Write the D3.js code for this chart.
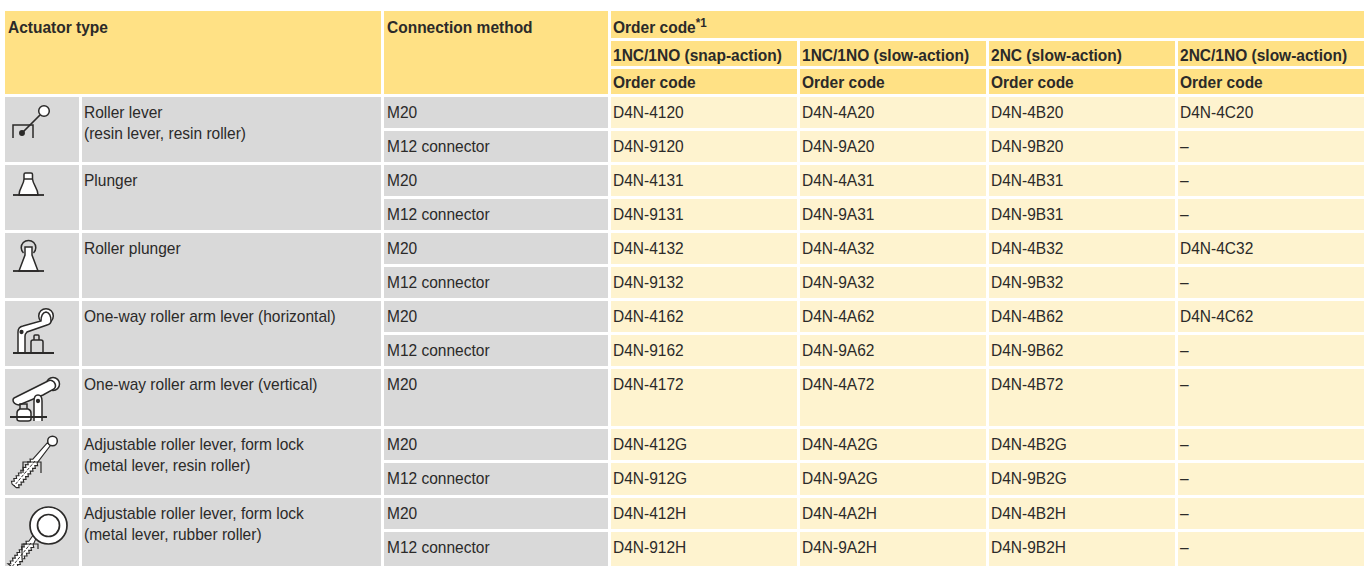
<!DOCTYPE html>
<html>
<head>
<meta charset="utf-8">
<script src="https://cdn.jsdelivr.net/npm/d3@7"></script>
<style>
html, body { margin: 0; padding: 0; background: #fff; overflow: hidden; }
svg { display: block; }
text { font-family: "Liberation Sans", sans-serif; fill: #2b2a29; font-size: 16px; }
.bold { font-weight: bold; }
</style>
</head>
<body>
<svg id="chart" width="1364" height="566"></svg>
<script>
// table content
var actuators = [
  ["Roller lever", "(resin lever, resin roller)"],
  ["Plunger"],
  ["Roller plunger"],
  ["One-way roller arm lever (horizontal)"],
  ["One-way roller arm lever (vertical)"],
  ["Adjustable roller lever, form lock", "(metal lever, resin roller)"],
  ["Adjustable roller lever, form lock", "(metal lever, rubber roller)"]
];
var rowsPerActuator = [2, 2, 2, 2, 1, 2, 2];
var connections = ["M20", "M12 connector", "M20", "M12 connector", "M20", "M12 connector", "M20", "M12 connector", "M20", "M20", "M12 connector", "M20", "M12 connector"];
var contactTypes = ["1NC/1NO (snap-action)", "1NC/1NO (slow-action)", "2NC (slow-action)", "2NC/1NO (slow-action)"];
var codesSnap = ["D4N-4120", "D4N-9120", "D4N-4131", "D4N-9131", "D4N-4132", "D4N-9132", "D4N-4162", "D4N-9162", "D4N-4172", "D4N-412G", "D4N-912G", "D4N-412H", "D4N-912H"];
var codesSlow = ["D4N-4A20", "D4N-9A20", "D4N-4A31", "D4N-9A31", "D4N-4A32", "D4N-9A32", "D4N-4A62", "D4N-9A62", "D4N-4A72", "D4N-4A2G", "D4N-9A2G", "D4N-4A2H", "D4N-9A2H"];
var codes2nc = ["D4N-4B20", "D4N-9B20", "D4N-4B31", "D4N-9B31", "D4N-4B32", "D4N-9B32", "D4N-4B62", "D4N-9B62", "D4N-4B72", "D4N-4B2G", "D4N-9B2G", "D4N-4B2H", "D4N-9B2H"];
var codes2nc1no = ["D4N-4C20", "–", "–", "–", "D4N-4C32", "–", "D4N-4C62", "–", "–", "–", "–", "–", "–"];
var codeColumns = [codesSnap, codesSlow, codes2nc, codes2nc1no];

var headColor = "#ffe185", codeColor = "#fef3cf", greyColor = "#d9d9d9", ink = "#2b2a29";

var svg = d3.select("#chart");

// layout scales
var rowIds = d3.range(connections.length);
var rowTop = d3.scaleOrdinal().domain(rowIds).range([97, 131, 165, 199, 233, 267, 301, 335, 369, 429, 463, 498, 532]);
var rowBottom = d3.scaleOrdinal().domain(rowIds).range([128, 162, 196, 230, 264, 298, 332, 366, 426, 460, 495, 529, 566]);
var codeX = d3.scaleBand().domain(d3.range(4)).range([611, 1364]).paddingInner(3 / 189);

function box(x, y, w, h, color) {
  svg.append("rect").attr("x", x).attr("y", y).attr("width", w).attr("height", h).attr("fill", color);
}
// the source font is a little narrower than Liberation Sans
function label(x, y, str, bold) {
  return svg.append("text")
    .attr("transform", "translate(" + x + "," + y + ") scale(0.97,1)")
    .attr("class", bold ? "bold" : null)
    .text(str);
}

// header
box(5, 11, 376, 83, headColor);
box(384, 11, 224, 83, headColor);
box(611, 11, 753, 27, headColor);
label(8, 32.5, "Actuator type", true);
label(387, 32.5, "Connection method", true);
var orderHead = label(613, 33, "Order code", true);
orderHead.append("tspan").attr("dy", -6).style("font-size", "12px").text("*1");

contactTypes.forEach(function (t, i) {
  box(codeX(i), 41, codeX.bandwidth(), 25, headColor);
  box(codeX(i), 69, codeX.bandwidth(), 25, headColor);
  label(codeX(i) + 2, 61, t, true);
  label(codeX(i) + 2, 88, "Order code", true);
});

// body rows
var firstRow = d3.cumsum([0].concat(rowsPerActuator));
actuators.forEach(function (lines, a) {
  var top = rowTop(firstRow[a]);
  var bottom = rowBottom(firstRow[a + 1] - 1);
  box(5, top, 74, bottom - top, greyColor);
  box(82, top, 299, bottom - top, greyColor);
  lines.forEach(function (line, k) {
    label(84, top + 20.5 + k * 21, line, false);
  });
});

rowIds.forEach(function (r) {
  var h = rowBottom(r) - rowTop(r);
  box(384, rowTop(r), 224, h, greyColor);
  label(387, rowTop(r) + 20.5, connections[r], false);
  codeColumns.forEach(function (col, c) {
    box(codeX(c), rowTop(r), codeX.bandwidth(), h, codeColor);
    label(codeX(c) + 2, rowTop(r) + 20.5, col[r], false);
  });
});

// actuator icons, drawn in the local space of their cell
function icon(a) {
  return svg.append("g")
    .attr("transform", "translate(5," + rowTop(firstRow[a]) + ")")
    .attr("fill", "none").attr("stroke", ink).attr("stroke-width", 1.5);
}
// notched shaft of the adjustable levers: plain from p1 to p2, teeth from p2 to p3
function shaft(g, x1, y1, x2, y2, x3, y3) {
  var len = Math.hypot(x3 - x2, y3 - y2);
  var ux = (x3 - x2) / len, uy = (y3 - y2) / len;
  var nx = -uy, ny = ux;
  var side = function (sign) {
    var pts = [];
    for (var s = 0; s <= len; s += 1.8) {
      var w = Math.round(s / 1.8) % 2 ? 5 : 2.8;
      pts.push([x2 + ux * s + sign * nx * w, y2 + uy * s + sign * ny * w]);
    }
    return pts;
  };
  var pts = [[x1 + nx * 2, y1 + ny * 2]].concat(side(1), side(-1).reverse(), [[x1 - nx * 2, y1 - ny * 2]]);
  g.append("path").attr("d", d3.line()(pts) + "Z").attr("fill", "#fff").attr("stroke-width", 1.1);
  g.append("line").attr("x1", x2).attr("y1", y2).attr("x2", x3).attr("y2", y3)
    .attr("stroke-width", 1).attr("stroke-dasharray", "3 1.5");
}

// roller lever
var i0 = icon(0);
i0.append("path").attr("d", "M8,41V28H28V41");
i0.append("path").attr("d", "M35,18L17,36").attr("stroke-width", 1.7);
i0.append("circle").attr("cx", 17).attr("cy", 36).attr("r", 2.2).attr("fill", ink);
i0.append("circle").attr("cx", 39).attr("cy", 14).attr("r", 5.3).attr("fill", "#fff");

// plunger
var i1 = icon(1);
i1.append("path").attr("d", "M14,30C14,23 19,20 19,14V9.5Q19,8 20.5,8H26Q27.5,8 27.5,9.5V14C28,20 33,23 33,30Z").attr("fill", "#fff");
i1.append("path").attr("d", "M19,14H28");
i1.append("path").attr("d", "M8,30H39").attr("stroke-width", 1.8);

// roller plunger
var i2 = icon(2);
i2.append("path").attr("d", "M18.5,20A7.3,7.3 0 1 1 28.5,20");
i2.append("path").attr("d", "M14,38L20,22V14H27V22L33,38Z").attr("fill", "#fff");
i2.append("path").attr("d", "M8,38H39").attr("stroke-width", 1.8);

// one-way roller arm lever (horizontal)
var i3 = icon(3);
i3.append("circle").attr("cx", 41).attr("cy", 15).attr("r", 7.3).attr("fill", "#fff");
i3.append("path").attr("d", "M13,52V31Q13,26 18,25L36,20Q36,12 41,11Q46,12 46,20Q46,23 42,24L22,31Q20,33 20,35V52").attr("fill", "#fff");
i3.append("circle").attr("cx", 16.5).attr("cy", 31).attr("r", 1.4).attr("fill", ink);
i3.append("path").attr("d", "M26,52V41Q26,39 28,39H36Q38,39 38,41V52Z");
i3.append("path").attr("d", "M29,39V35Q29,34 30,34H33Q34,34 34,35V39");
i3.append("path").attr("d", "M8,52H49").attr("stroke-width", 1.8);

// one-way roller arm lever (vertical)
var i4 = icon(4);
i4.append("circle").attr("cx", 48).attr("cy", 15).attr("r", 6.5).attr("fill", "#fff");
i4.append("path").attr("d", "M11,28L43,12Q46,10 49,13Q52,17 49,20L38,26L14,36Q8,35 8,31Q8,29 11,28Z").attr("fill", "#fff");
i4.append("path").attr("d", "M29,52V32Q29,26 33,26Q37,26 37,32V52").attr("fill", "#fff");
i4.append("circle").attr("cx", 33).attr("cy", 32).attr("r", 1.4).attr("fill", ink);
i4.append("path").attr("d", "M12,44Q12,41 15,40H23Q26,41 26,44V50Q26,52 23,52H15Q12,52 12,50Z").attr("fill", "#fff");
i4.append("path").attr("d", "M15,40V35H22V40");
i4.append("path").attr("d", "M5,48H42").attr("stroke-width", 1.8);

// adjustable roller lever, resin roller
var i5 = icon(5);
shaft(i5, 44, 15, 30, 32, 9, 57);
i5.append("path").attr("d", "M18,44V33H36V44").attr("stroke-width", 1.2);
i5.append("circle").attr("cx", 47.5).attr("cy", 12).attr("r", 4.8).attr("fill", "#fff");

// adjustable roller lever, rubber roller
var i6 = icon(6);
shaft(i6, 30, 38, 26, 45, 6, 70);
i6.append("path").attr("d", "M17,60V46H33V51").attr("stroke-width", 1.2);
i6.append("circle").attr("cx", 43.5).attr("cy", 27.5).attr("r", 18.5).attr("fill", "#fff").attr("stroke-width", 1.7);
i6.append("circle").attr("cx", 43.5).attr("cy", 27.5).attr("r", 11).attr("stroke-width", 1.7);
</script>
</body>
</html>
